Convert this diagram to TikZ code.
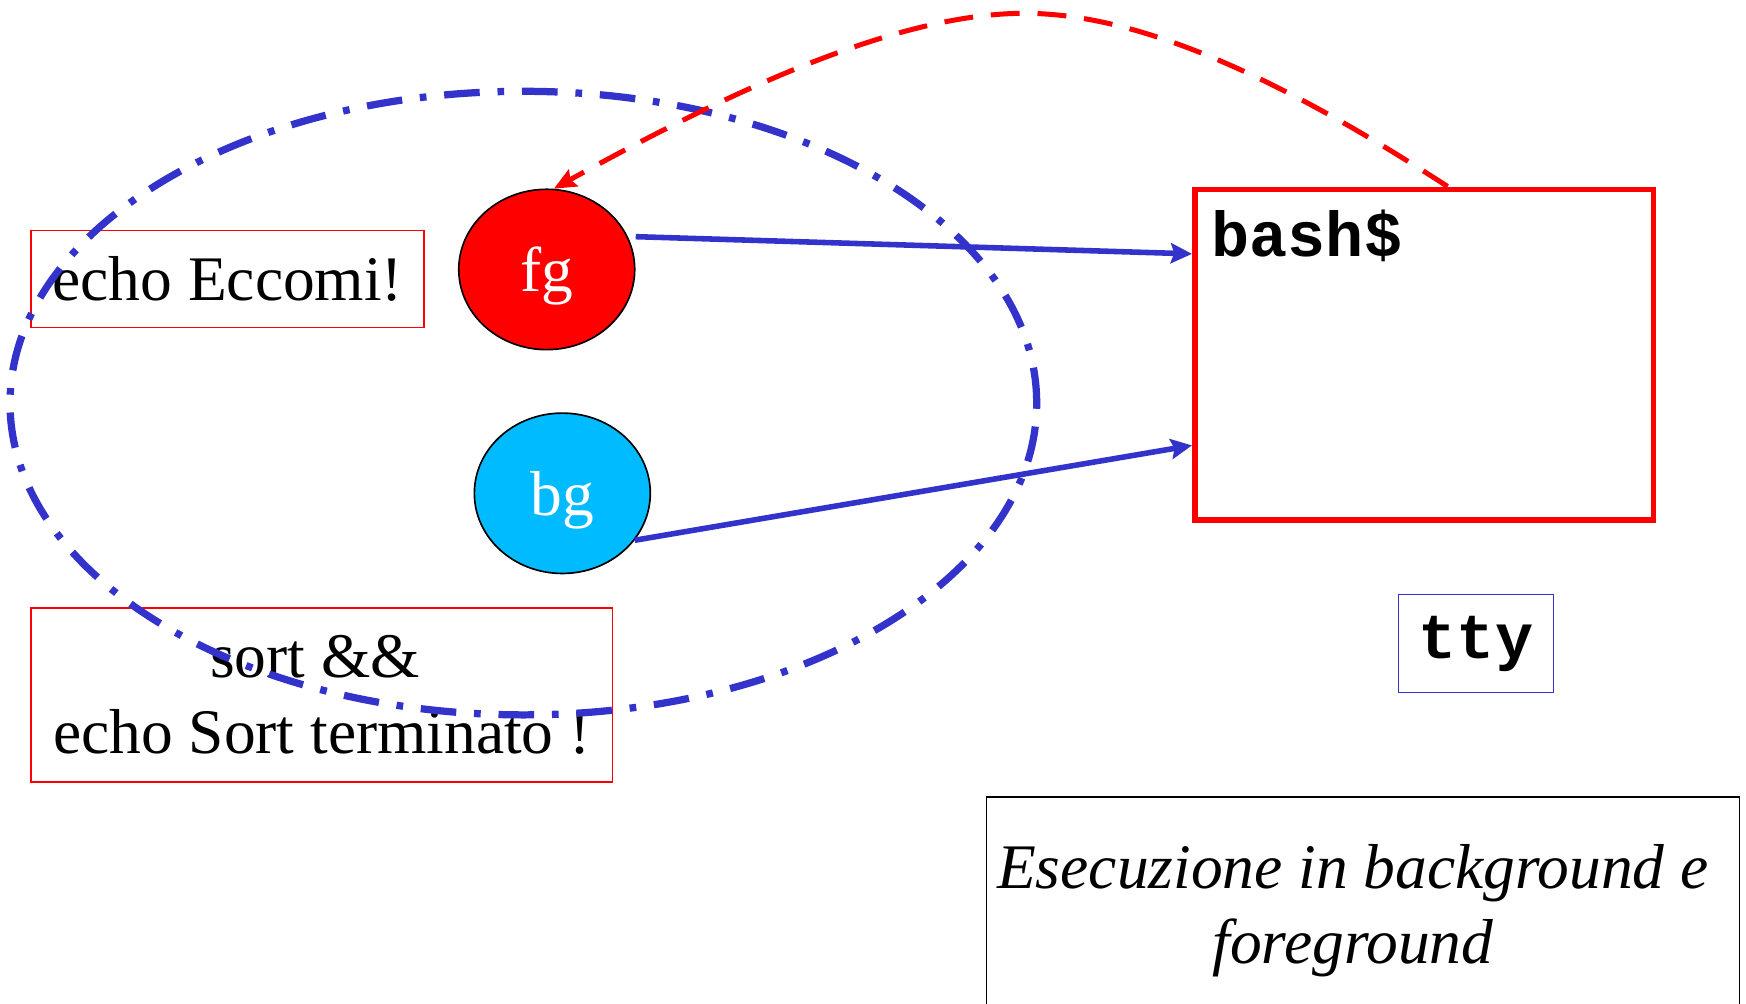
\documentclass[tikz,border=0pt]{standalone}
\usepackage{fontspec}
\setmainfont{Liberation Serif}
\setmonofont{Liberation Mono}
\usetikzlibrary{shapes.geometric,arrows.meta,positioning}
\definecolor{linkblue}{RGB}{51,51,204}
\definecolor{bgcyan}{RGB}{0,187,255}

\begin{document}
\begin{tikzpicture}[x=1pt, y=-1pt,
    every node/.style={font=\fontsize{57}{68}\selectfont},
    cmdbox/.style={draw=red, line width=1.5pt, inner sep=0pt, align=center},
    job/.style={ellipse, draw=black, line width=1.5pt, minimum width=158pt, minimum height=144pt, inner sep=0pt, text=white, text depth=0pt},
    termbox/.style={draw=red, line width=5pt, minimum width=412pt, minimum height=297pt},
    ttybox/.style={draw=linkblue, line width=1.5pt, minimum width=139pt, minimum height=88pt, font=\fontsize{57}{68}\selectfont\ttfamily\bfseries},
    ring/.style={ellipse, draw=linkblue, line width=6.5pt, dash pattern=on 32pt off 16pt on 6pt off 16pt, minimum width=922pt, minimum height=560pt},
    link/.style={draw=linkblue, line width=5pt, -{Stealth[length=19pt,width=18pt,inset=3pt]}},
    reply/.style={draw=red, line width=4.5pt, dash pattern=on 26pt off 16pt, -{Stealth[length=20pt,width=17pt,inset=3pt]}}
]
    \useasboundingbox (0,0) rectangle (1568,901);

    % Commands
    \node[cmdbox, minimum width=353pt, minimum height=87pt] (eccomi) at (204.5,250.5) {echo Eccomi!};
    \node[cmdbox, minimum width=522pt, minimum height=156pt] (sort) at (289,624) {sort \&\&\rule{12pt}{0pt}\\echo Sort terminato !};

    % Jobs
    \node[job, fill=red] (fg) at (491,242) {fg};
    \node[job, fill=bgcyan] (bg) at (505,443) {bg};

    % Job group
    \node[ring] (group) at (470,362) {};

    % Terminal
    \node[termbox] (bash) at (1279,318.5) {};
    \node[anchor=base west, inner sep=0pt, font=\fontsize{57}{68}\selectfont\ttfamily\bfseries] (prompt) at (1088,230) {bash\$};
    \node[ttybox] (tty) at (1325.5,578) {tty};

    % Output
    \draw[link] ([xshift=7pt]fg.22) -- ([yshift=90.5pt]bash.west);
    \draw[link] (bg.-33) -- ([yshift=-81.5pt]bash.west);

    % Control back to fg
    \coordinate (peak) at (915,12);
    \draw[reply] ([xshift=21pt]bash.north) .. controls (1150,70) and (1020,10) .. (peak)
        .. controls (800,14) and (650,85) .. (fg.85);

    % Caption
    \draw[line width=1.5pt] (886,910) |- (1562,716) -- (1562,910);
    \node[align=center, font=\fontsize{57}{68}\selectfont\itshape] (caption) at (1215,818) {Esecuzione in background e\\foreground};
\end{tikzpicture}
\end{document}
